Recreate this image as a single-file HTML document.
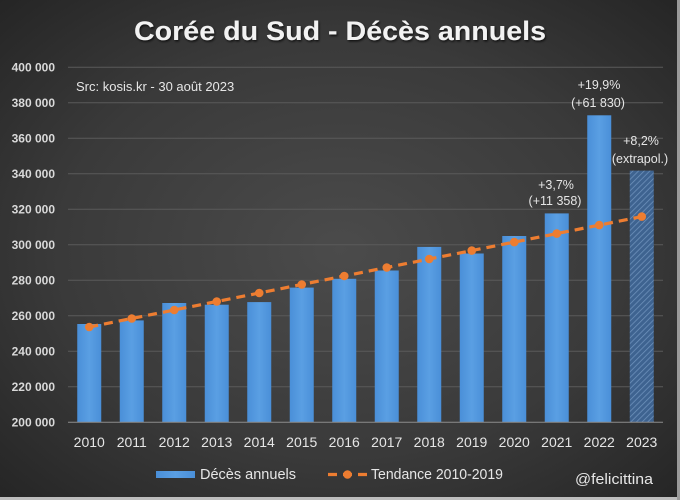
<!DOCTYPE html>
<html><head><meta charset="utf-8"><style>
html,body{margin:0;padding:0;background:#2a2a2a;}
svg{display:block;}
text{font-family:"Liberation Sans",sans-serif;}
</style></head><body>
<svg width="680" height="500" viewBox="0 0 680 500" xmlns="http://www.w3.org/2000/svg">
<defs>
<radialGradient id="bg" cx="0.5" cy="0.5" r="0.75">
<stop offset="0" stop-color="#4b4b4b"/>
<stop offset="0.55" stop-color="#3a3a3a"/>
<stop offset="1" stop-color="#222222"/>
</radialGradient>
<linearGradient id="bar" x1="0" y1="0" x2="1" y2="0">
<stop offset="0" stop-color="#4a8fd8"/>
<stop offset="0.5" stop-color="#5a9fe3"/>
<stop offset="1" stop-color="#4a8fd8"/>
</linearGradient>
<pattern id="hatch" width="4" height="4" patternUnits="userSpaceOnUse" patternTransform="rotate(45)">
<rect width="4" height="4" fill="#3e6390"/>
<line x1="0" y1="0" x2="0" y2="4" stroke="#6f93bd" stroke-width="1.5"/>
</pattern>
<filter id="sh" x="-5%" y="-20%" width="110%" height="140%">
<feDropShadow dx="1" dy="1.5" stdDeviation="1" flood-color="#000" flood-opacity="0.7"/>
</filter>
</defs>
<rect width="680" height="500" fill="url(#bg)"/>
<rect x="0" y="497" width="680" height="3" fill="#bdbdbd"/>
<rect x="677" y="0" width="3" height="500" fill="#9a9a9a"/>

<text x="340" y="40" text-anchor="middle" font-size="27" font-weight="bold" fill="#f2f2f2" filter="url(#sh)" textLength="412" lengthAdjust="spacingAndGlyphs">Corée du Sud - Décès annuels</text>

<!-- gridlines -->
<g stroke="#5a5a5a" stroke-width="1">
<line x1="68" x2="663" y1="67.3" y2="67.3"/>
<line x1="68" x2="663" y1="102.8" y2="102.8"/>
<line x1="68" x2="663" y1="138.3" y2="138.3"/>
<line x1="68" x2="663" y1="173.8" y2="173.8"/>
<line x1="68" x2="663" y1="209.3" y2="209.3"/>
<line x1="68" x2="663" y1="244.8" y2="244.8"/>
<line x1="68" x2="663" y1="280.3" y2="280.3"/>
<line x1="68" x2="663" y1="315.8" y2="315.8"/>
<line x1="68" x2="663" y1="351.3" y2="351.3"/>
<line x1="68" x2="663" y1="386.8" y2="386.8"/>
</g>

<!-- y labels -->
<g font-size="12" font-weight="bold" fill="#d9d9d9" text-anchor="end">
<text x="55" y="71.5">400 000</text>
<text x="55" y="107">380 000</text>
<text x="55" y="142.5">360 000</text>
<text x="55" y="178">340 000</text>
<text x="55" y="213.5">320 000</text>
<text x="55" y="249">300 000</text>
<text x="55" y="284.5">280 000</text>
<text x="55" y="320">260 000</text>
<text x="55" y="355.5">240 000</text>
<text x="55" y="391">220 000</text>
<text x="55" y="426.5">200 000</text>
</g>

<text x="76" y="91" font-size="13" fill="#e6e6e6">Src: kosis.kr - 30 août 2023</text>

<!-- bars -->
<g fill="url(#bar)">
<rect x="77.25" y="324.0" width="24" height="98.3"/>
<rect x="119.75" y="320.4" width="24" height="101.9"/>
<rect x="162.25" y="303.0" width="24" height="119.3"/>
<rect x="204.75" y="304.7" width="24" height="117.6"/>
<rect x="247.25" y="302.1" width="24" height="120.2"/>
<rect x="289.75" y="287.6" width="24" height="134.7"/>
<rect x="332.25" y="278.8" width="24" height="143.5"/>
<rect x="374.75" y="270.5" width="24" height="151.8"/>
<rect x="417.25" y="246.9" width="24" height="175.4"/>
<rect x="459.75" y="253.5" width="24" height="168.8"/>
<rect x="502.25" y="236.0" width="24" height="186.3"/>
<rect x="544.75" y="213.4" width="24" height="208.9"/>
<rect x="587.25" y="115.3" width="24" height="307.0"/>
</g>
<rect x="629.75" y="170.6" width="24" height="251.7" fill="url(#hatch)"/>

<line x1="68" x2="663" y1="422.3" y2="422.3" stroke="#8c8c8c" stroke-width="1"/>

<!-- trend -->
<polyline fill="none" stroke="#ED7D31" stroke-width="3.2" stroke-dasharray="9 6" points="89.25,327.0 131.75,318.5 174.25,310.0 216.75,301.5 259.25,293.0 301.75,284.5 344.25,276.0 386.75,267.5 429.25,259.0 471.75,250.6 514.25,242.1 556.75,233.6 599.25,225.1 641.75,216.6"/>
<g fill="#ED7D31">
<circle cx="89.25" cy="327.0" r="4.3"/>
<circle cx="131.75" cy="318.5" r="4.3"/>
<circle cx="174.25" cy="310.0" r="4.3"/>
<circle cx="216.75" cy="301.5" r="4.3"/>
<circle cx="259.25" cy="293.0" r="4.3"/>
<circle cx="301.75" cy="284.5" r="4.3"/>
<circle cx="344.25" cy="276.0" r="4.3"/>
<circle cx="386.75" cy="267.5" r="4.3"/>
<circle cx="429.25" cy="259.0" r="4.3"/>
<circle cx="471.75" cy="250.6" r="4.3"/>
<circle cx="514.25" cy="242.1" r="4.3"/>
<circle cx="556.75" cy="233.6" r="4.3"/>
<circle cx="599.25" cy="225.1" r="4.3"/>
<circle cx="641.75" cy="216.6" r="4.3"/>
</g>

<!-- annotations -->
<g font-size="12.5" fill="#e6e6e6" text-anchor="middle">
<text x="556" y="189">+3,7%</text>
<text x="555" y="205">(+11 358)</text>
<text x="599" y="89">+19,9%</text>
<text x="598" y="107">(+61 830)</text>
<text x="641" y="145">+8,2%</text>
<text x="640" y="163">(extrapol.)</text>
</g>

<!-- x labels -->
<g font-size="14" fill="#e6e6e6" text-anchor="middle">
<text x="89.25" y="447">2010</text>
<text x="131.75" y="447">2011</text>
<text x="174.25" y="447">2012</text>
<text x="216.75" y="447">2013</text>
<text x="259.25" y="447">2014</text>
<text x="301.75" y="447">2015</text>
<text x="344.25" y="447">2016</text>
<text x="386.75" y="447">2017</text>
<text x="429.25" y="447">2018</text>
<text x="471.75" y="447">2019</text>
<text x="514.25" y="447">2020</text>
<text x="556.75" y="447">2021</text>
<text x="599.25" y="447">2022</text>
<text x="641.75" y="447">2023</text>
</g>

<!-- legend -->
<rect x="156" y="471" width="39" height="7" fill="url(#bar)"/>
<text x="200" y="479" font-size="15" fill="#e6e6e6" textLength="96" lengthAdjust="spacingAndGlyphs">Décès annuels</text>
<line x1="328" x2="367" y1="474.5" y2="474.5" stroke="#ED7D31" stroke-width="3.2" stroke-dasharray="9 6"/>
<circle cx="347.5" cy="474.5" r="4.3" fill="#ED7D31"/>
<text x="371" y="479" font-size="15" fill="#e6e6e6" textLength="132" lengthAdjust="spacingAndGlyphs">Tendance 2010-2019</text>
<text x="575" y="484" font-size="15" fill="#e6e6e6" textLength="78" lengthAdjust="spacingAndGlyphs">@felicittina</text>
</svg>
</body></html>
